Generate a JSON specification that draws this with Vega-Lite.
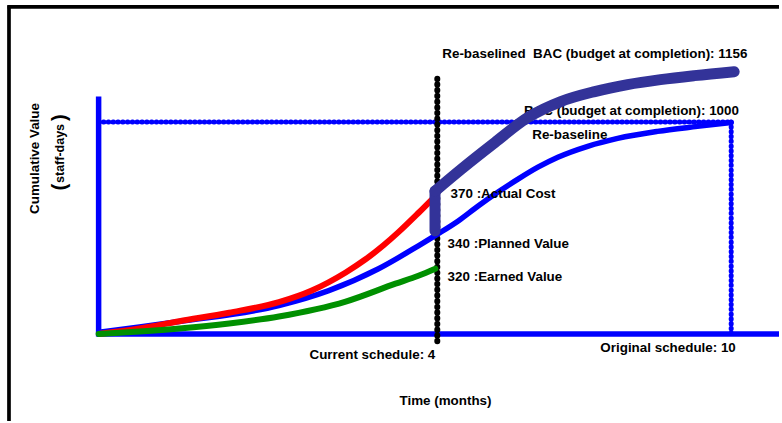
{
  "$schema": "https://vega.github.io/schema/vega-lite/v6.json",
  "width": 782,
  "height": 423,
  "autosize": {"type": "fit", "contains": "padding"},
  "padding": 0,
  "background": "white",
  "config": {"view": {"stroke": null}, "text": {"font": "Liberation Sans", "fontWeight": "bold", "color": "#000000"}},
  "encoding": {
    "x": {"field": "x", "type": "quantitative", "scale": {"domain": [-1.5591, 10.7559], "nice": false, "zero": false}, "axis": null},
    "y": {"field": "y", "type": "quantitative", "scale": {"domain": [-410.8, 1575.1], "nice": false, "zero": false}, "axis": null}
  },
  "layer": [
    {
      "data": {"values": [
        {"x": -1.44, "y": 1542.3, "x2": 10.7559, "y2": 1542.3},
        {"x": -1.417, "y": -410.8, "x2": -1.417, "y2": 1550}
      ]},
      "mark": {"type": "rule", "color": "#000000", "strokeWidth": 3.7},
      "encoding": {"x2": {"field": "x2"}, "y2": {"field": "y2"}}
    },
    {
      "data": {"values": [
        {"x": 0, "y": -11.7, "x2": 0, "y2": 1119.7},
        {"x": -0.031, "y": 0, "x2": 10.7559, "y2": 0}
      ]},
      "mark": {"type": "rule", "color": "#0000ff", "strokeWidth": 5.5},
      "encoding": {"x2": {"field": "x2"}, "y2": {"field": "y2"}}
    },
    {
      "data": {"values": [
        {"x": 0, "y": 1000, "x2": 10, "y2": 1000},
        {"x": 10, "y": 1000, "x2": 10, "y2": 0}
      ]},
      "mark": {"type": "rule", "color": "#0000ff", "strokeWidth": 5, "strokeDash": [0.5, 4.3], "strokeCap": "round"},
      "encoding": {"x2": {"field": "x2"}, "y2": {"field": "y2"}}
    },
    {
      "data": {"values": [
        {"x": 5.354, "y": -35, "x2": 5.354, "y2": 1209}
      ]},
      "mark": {"type": "rule", "color": "#000000", "strokeWidth": 6, "strokeDash": [0.5, 5.2], "strokeCap": "round"},
      "encoding": {"x2": {"field": "x2"}, "y2": {"field": "y2"}}
    },
    {
      "data": {"values": [
        {"x": 0, "y": 8}, {"x": 0.646, "y": 33}, {"x": 1.276, "y": 58.7}, {"x": 2.85, "y": 133.8},
        {"x": 3.638, "y": 204.2}, {"x": 4.425, "y": 307.3}, {"x": 5.055, "y": 415.5}, {"x": 5.339, "y": 467.1},
        {"x": 5.685, "y": 532.9}, {"x": 6.0, "y": 603.3}, {"x": 6.315, "y": 669.0}, {"x": 6.63, "y": 730.0},
        {"x": 6.945, "y": 786.4}, {"x": 7.26, "y": 833.3}, {"x": 7.732, "y": 885.0}, {"x": 8.205, "y": 922.5},
        {"x": 8.835, "y": 955.4}, {"x": 9.465, "y": 978.9}, {"x": 10.0, "y": 997.7}
      ]},
      "mark": {"type": "line", "color": "#0000ff", "strokeWidth": 5.5, "interpolate": "monotone", "strokeCap": "round"}
    },
    {
      "data": {"values": [
        {"x": 0, "y": 0}, {"x": 0.646, "y": 25.8}, {"x": 1.276, "y": 60}, {"x": 2.063, "y": 100},
        {"x": 2.85, "y": 150}, {"x": 3.37, "y": 205}, {"x": 3.906, "y": 290}, {"x": 4.22, "y": 352},
        {"x": 4.504, "y": 418}, {"x": 4.74, "y": 480}, {"x": 5.055, "y": 570.4}, {"x": 5.307, "y": 645.5}
      ]},
      "mark": {"type": "line", "color": "#ff0000", "strokeWidth": 6, "interpolate": "monotone", "strokeCap": "butt"}
    },
    {
      "data": {"values": [
        {"x": 0, "y": 0}, {"x": 0.646, "y": 11.7}, {"x": 1.276, "y": 25.8}, {"x": 2.063, "y": 49.3},
        {"x": 2.85, "y": 82.2}, {"x": 3.906, "y": 152.6}, {"x": 4.693, "y": 237.1}, {"x": 5.055, "y": 274.6},
        {"x": 5.323, "y": 307.5}
      ]},
      "mark": {"type": "line", "color": "#009000", "strokeWidth": 6, "interpolate": "monotone", "strokeCap": "round"}
    },
    {
      "data": {"values": [
        {"x": 5.433, "y": 1319.2, "text": "Re-baselined\u00a0 BAC (budget at completion): 1156"},
        {"x": 6.724, "y": 1052.6, "text": "BAC (budget at completion): 1000"},
        {"x": 6.855, "y": 940, "text": "Re-baseline"},
        {"x": 5.564, "y": 658.2, "text": "370 :Actual Cost"},
        {"x": 5.517, "y": 424.9, "text": "340 :Planned Value"},
        {"x": 5.517, "y": 266.7, "text": "320 :Earned Value"},
        {"x": 3.334, "y": -97.2, "text": "Current schedule: 4"},
        {"x": 7.932, "y": -64.3, "text": "Original schedule: 10"},
        {"x": 4.756, "y": -318.3, "text": "Time (months)"}
      ]},
      "mark": {"type": "text", "align": "left", "baseline": "middle", "fontSize": 13.4},
      "encoding": {"text": {"field": "text"}}
    },
    {
      "data": {"values": [
        {"x": -0.998, "y": 827.5, "text": "Cumulative Value"}
      ]},
      "mark": {"type": "text", "align": "center", "baseline": "middle", "fontSize": 13.4, "angle": 270},
      "encoding": {"text": {"field": "text"}}
    },
    {
      "data": {"values": [
        {"x": -0.614, "y": 851.2, "text": "staff-days"}
      ]},
      "mark": {"type": "text", "align": "center", "baseline": "middle", "fontSize": 12.5, "angle": 270},
      "encoding": {"text": {"field": "text"}}
    },
    {
      "data": {"values": [
        {"x": -0.614, "y": 692.5, "text": "("},
        {"x": -0.614, "y": 1019.7, "text": ")"}
      ]},
      "mark": {"type": "text", "align": "center", "baseline": "middle", "fontSize": 20, "angle": 270},
      "encoding": {"text": {"field": "text"}}
    },
    {
      "data": {"values": [
        {"x": 5.318, "y": 486, "x2": 5.318, "y2": 673.7}
      ]},
      "mark": {"type": "rule", "color": "#333399", "strokeWidth": 11, "strokeCap": "round"},
      "encoding": {"x2": {"field": "x2"}, "y2": {"field": "y2"}}
    },
    {
      "data": {"values": [
        {"x": 5.318, "y": 673.7}, {"x": 5.732, "y": 777.0}, {"x": 6.268, "y": 903.8}, {"x": 6.787, "y": 1021.1},
        {"x": 7.307, "y": 1096.2}, {"x": 7.843, "y": 1143.2}, {"x": 8.362, "y": 1176.1}, {"x": 8.882, "y": 1199.5},
        {"x": 9.417, "y": 1218.3}, {"x": 10.047, "y": 1237.1}
      ]},
      "mark": {"type": "line", "color": "#333399", "strokeWidth": 11, "interpolate": "monotone", "strokeCap": "round", "strokeJoin": "round"}
    }
  ]
}
